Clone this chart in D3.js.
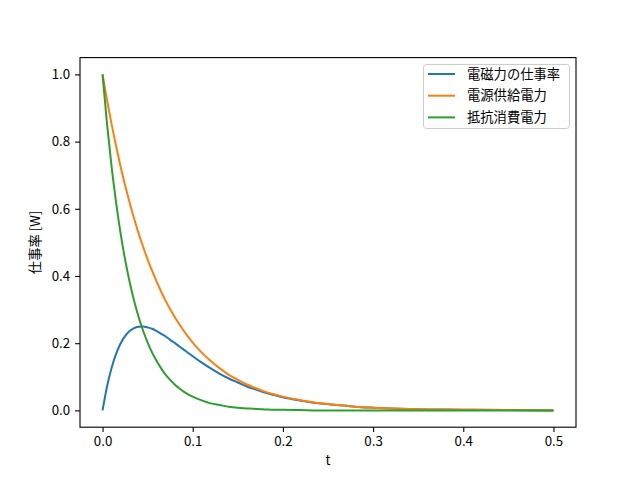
<!DOCTYPE html>
<html>
<head>
<meta charset="utf-8">
<script src="https://cdn.jsdelivr.net/npm/d3@7"></script>
<style>
  body { margin: 0; background: #fff; }
  svg text { font-family: "Noto Sans CJK JP", "DejaVu Sans", sans-serif; font-size: 13.3px; fill: #000; }
</style>
</head>
<body>
<div id="chart"></div>
<script>
// sample times [s]
var tValues = [0, 0.005, 0.01, 0.015, 0.02, 0.025, 0.03, 0.035, 0.04, 0.045, 0.05,
  0.055, 0.06, 0.065, 0.07, 0.075, 0.08, 0.085, 0.09, 0.095, 0.1,
  0.11, 0.12, 0.13, 0.14, 0.15, 0.16, 0.17, 0.18, 0.19, 0.2,
  0.22, 0.24, 0.26, 0.28, 0.3, 0.33, 0.36, 0.4, 0.45, 0.5];
// 電磁力の仕事率
var emPower = [0, 0.071, 0.126, 0.168, 0.199, 0.221, 0.236, 0.245, 0.249, 0.25, 0.247,
  0.243, 0.236, 0.228, 0.22, 0.21, 0.201, 0.191, 0.181, 0.171, 0.161,
  0.142, 0.125, 0.109, 0.095, 0.083, 0.071, 0.062, 0.053, 0.046, 0.039,
  0.029, 0.021, 0.016, 0.011, 0.008, 0.005, 0.003, 0.002, 0.001, 0];
// 電源供給電力
var supplyPower = [1, 0.923, 0.852, 0.787, 0.726, 0.67, 0.619, 0.571, 0.527, 0.487, 0.449,
  0.415, 0.383, 0.353, 0.326, 0.301, 0.278, 0.257, 0.237, 0.219, 0.202,
  0.172, 0.147, 0.125, 0.106, 0.091, 0.077, 0.066, 0.056, 0.048, 0.041,
  0.03, 0.021, 0.016, 0.011, 0.008, 0.005, 0.003, 0.002, 0.001, 0];
// 抵抗消費電力
var resistPower = [1, 0.852, 0.726, 0.619, 0.527, 0.449, 0.383, 0.326, 0.278, 0.237, 0.202,
  0.172, 0.147, 0.125, 0.106, 0.091, 0.077, 0.066, 0.056, 0.048, 0.041,
  0.03, 0.021, 0.016, 0.011, 0.008, 0.006, 0.004, 0.003, 0.002, 0.002,
  0.001, 0, 0, 0, 0, 0, 0, 0, 0, 0];
var seriesNames = ["電磁力の仕事率", "電源供給電力", "抵抗消費電力"];
var seriesColors = ["#1f77b4", "#ff7f0e", "#2ca02c"];
var xTicks = [0, 0.1, 0.2, 0.3, 0.4, 0.5];
var yTicks = [0, 0.2, 0.4, 0.6, 0.8, 1.0];

var width = 640, height = 480;
var margin = {left: 80, right: 64, top: 57.6, bottom: 52.8};

var svg = d3.select("#chart").append("svg")
    .attr("width", width)
    .attr("height", height);

var x = d3.scaleLinear()
    .domain([-0.025, 0.525])
    .range([margin.left, width - margin.right]);
var y = d3.scaleLinear()
    .domain([-0.05, 1.05])
    .range([height - margin.bottom, margin.top]);

var allSeries = [emPower, supplyPower, resistPower];

var line = d3.line()
    .x(d => x(d[0]))
    .y(d => y(d[1]))
    .curve(d3.curveMonotoneX);

allSeries.forEach((vals, i) => {
  svg.append("path")
    .datum(tValues.map((t, j) => [t, vals[j]]))
    .attr("fill", "none")
    .attr("stroke", seriesColors[i])
    .attr("stroke-width", 2)
    .attr("stroke-linejoin", "round")
    .attr("d", line);
});

// axes
var xAxis = svg.append("g")
    .attr("transform", "translate(0," + (height - margin.bottom) + ")")
    .call(d3.axisBottom(x).tickValues(xTicks).tickFormat(d3.format(".1f")).tickSizeOuter(0).tickSize(4.9).tickPadding(4.9));
var yAxis = svg.append("g")
    .attr("transform", "translate(" + margin.left + ",0)")
    .call(d3.axisLeft(y).tickValues(yTicks).tickFormat(d3.format(".1f")).tickSizeOuter(0).tickSize(4.9).tickPadding(4.9));
[xAxis, yAxis].forEach(g => {
  g.select(".domain").remove();
  g.selectAll("line").attr("stroke", "#000").attr("stroke-width", 1.1);
  g.attr("font-size", null).attr("font-family", null);
});

svg.append("rect")
    .attr("x", margin.left)
    .attr("y", margin.top)
    .attr("width", width - margin.left - margin.right)
    .attr("height", height - margin.top - margin.bottom)
    .attr("fill", "none")
    .attr("stroke", "#000")
    .attr("stroke-width", 1.1);

svg.append("text")
    .attr("x", (margin.left + width - margin.right) / 2)
    .attr("y", 465)
    .attr("text-anchor", "middle")
    .text("t");
svg.append("text")
    .attr("transform", "translate(40," + ((margin.top + height - margin.bottom) / 2) + ") rotate(-90)")
    .attr("text-anchor", "middle")
    .text("仕事率 [W]");

// legend
var legend = svg.append("g");
legend.append("rect")
    .attr("x", 423.5).attr("y", 64.5)
    .attr("width", 146).attr("height", 64)
    .attr("rx", 3)
    .attr("fill", "#fff").attr("fill-opacity", 0.8)
    .attr("stroke", "#ccc");
seriesNames.forEach((name, i) => {
  var ly = 74 + i * 21.7;
  legend.append("line")
    .attr("x1", 428).attr("x2", 455)
    .attr("y1", ly).attr("y2", ly)
    .attr("stroke", seriesColors[i]).attr("stroke-width", 2);
  legend.append("text")
    .attr("x", 467).attr("y", ly)
    .attr("dy", "0.35em")
    .text(name);
});
</script>
</body>
</html>
